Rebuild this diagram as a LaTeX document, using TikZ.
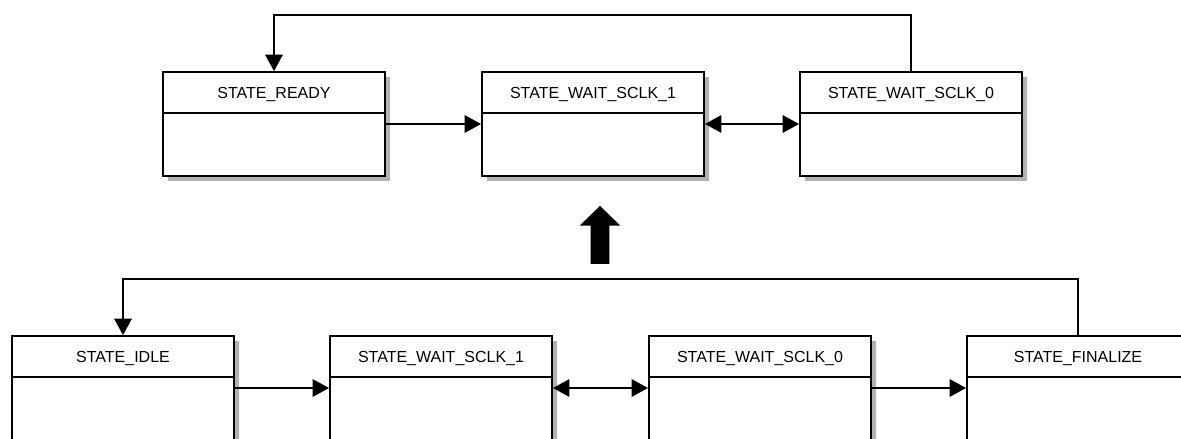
\documentclass[tikz,border=0pt]{standalone}
\usepackage{fontspec}
\usetikzlibrary{positioning, arrows.meta, shapes, shadows}
\newfontfamily\statefont{Liberation Sans}
\newcommand{\stt}[1]{\rule[-2.75mm]{0pt}{7.8mm}#1\nodepart{two}\rule{0pt}{12.2mm}}

\begin{document}
\begin{tikzpicture}[
		>={Triangle[length=3.3mm, width=3.5mm]},
		state/.style={rectangle split, rectangle split parts=2, draw, fill=white, line width=1.1pt, inner sep=0pt, minimum width=4.44cm, font=\statefont\fontsize{9.1}{11}\selectfont, drop shadow={shadow xshift=1mm, shadow yshift=-1mm, fill=black!30, opacity=1}},
		link/.style={line width=1.1pt},
	]
	\useasboundingbox (0,0) rectangle (23.62,-8.78);
	\clip (0,0) rectangle (23.62,-8.78);

	\node[state] (ready) at (5.48,-2.48) {\stt{STATE\_READY}};
	\node[state] (wait1) at (11.86,-2.48) {\stt{STATE\_WAIT\_SCLK\_1}};
	\node[state] (wait0) at (18.22,-2.48) {\stt{STATE\_WAIT\_SCLK\_0}};

	\node[state] (idle) at (2.46,-7.76) {\stt{STATE\_IDLE}};
	\node[state] (oldwait1) at (8.82,-7.76) {\stt{STATE\_WAIT\_SCLK\_1}};
	\node[state] (oldwait0) at (15.2,-7.76) {\stt{STATE\_WAIT\_SCLK\_0}};
	\node[state] (finalize) at (21.56,-7.76) {\stt{STATE\_FINALIZE}};

	\node[single arrow, fill=black, inner sep=0pt, minimum height=1.16cm, single arrow head extend=2.2mm, single arrow tip angle=92, rotate=90] (upgrade) at (12.0,-4.79) {\rule{0pt}{3.6mm}};

	\foreach \i/\j in {ready/wait1, idle/oldwait1, oldwait0/finalize}
		\draw[link, ->] (\i.east) -- (\j.west);
	\foreach \i/\j in {wait1/wait0, oldwait1/oldwait0}
		\draw[link, <->] (\i.east) -- (\j.west);

	\draw[link, ->] (wait0.north) -- ++(0,1.12) -| (ready.north);
	\draw[link, ->] (finalize.north) -- ++(0,1.12) -| (idle.north);
\end{tikzpicture}
\end{document}
